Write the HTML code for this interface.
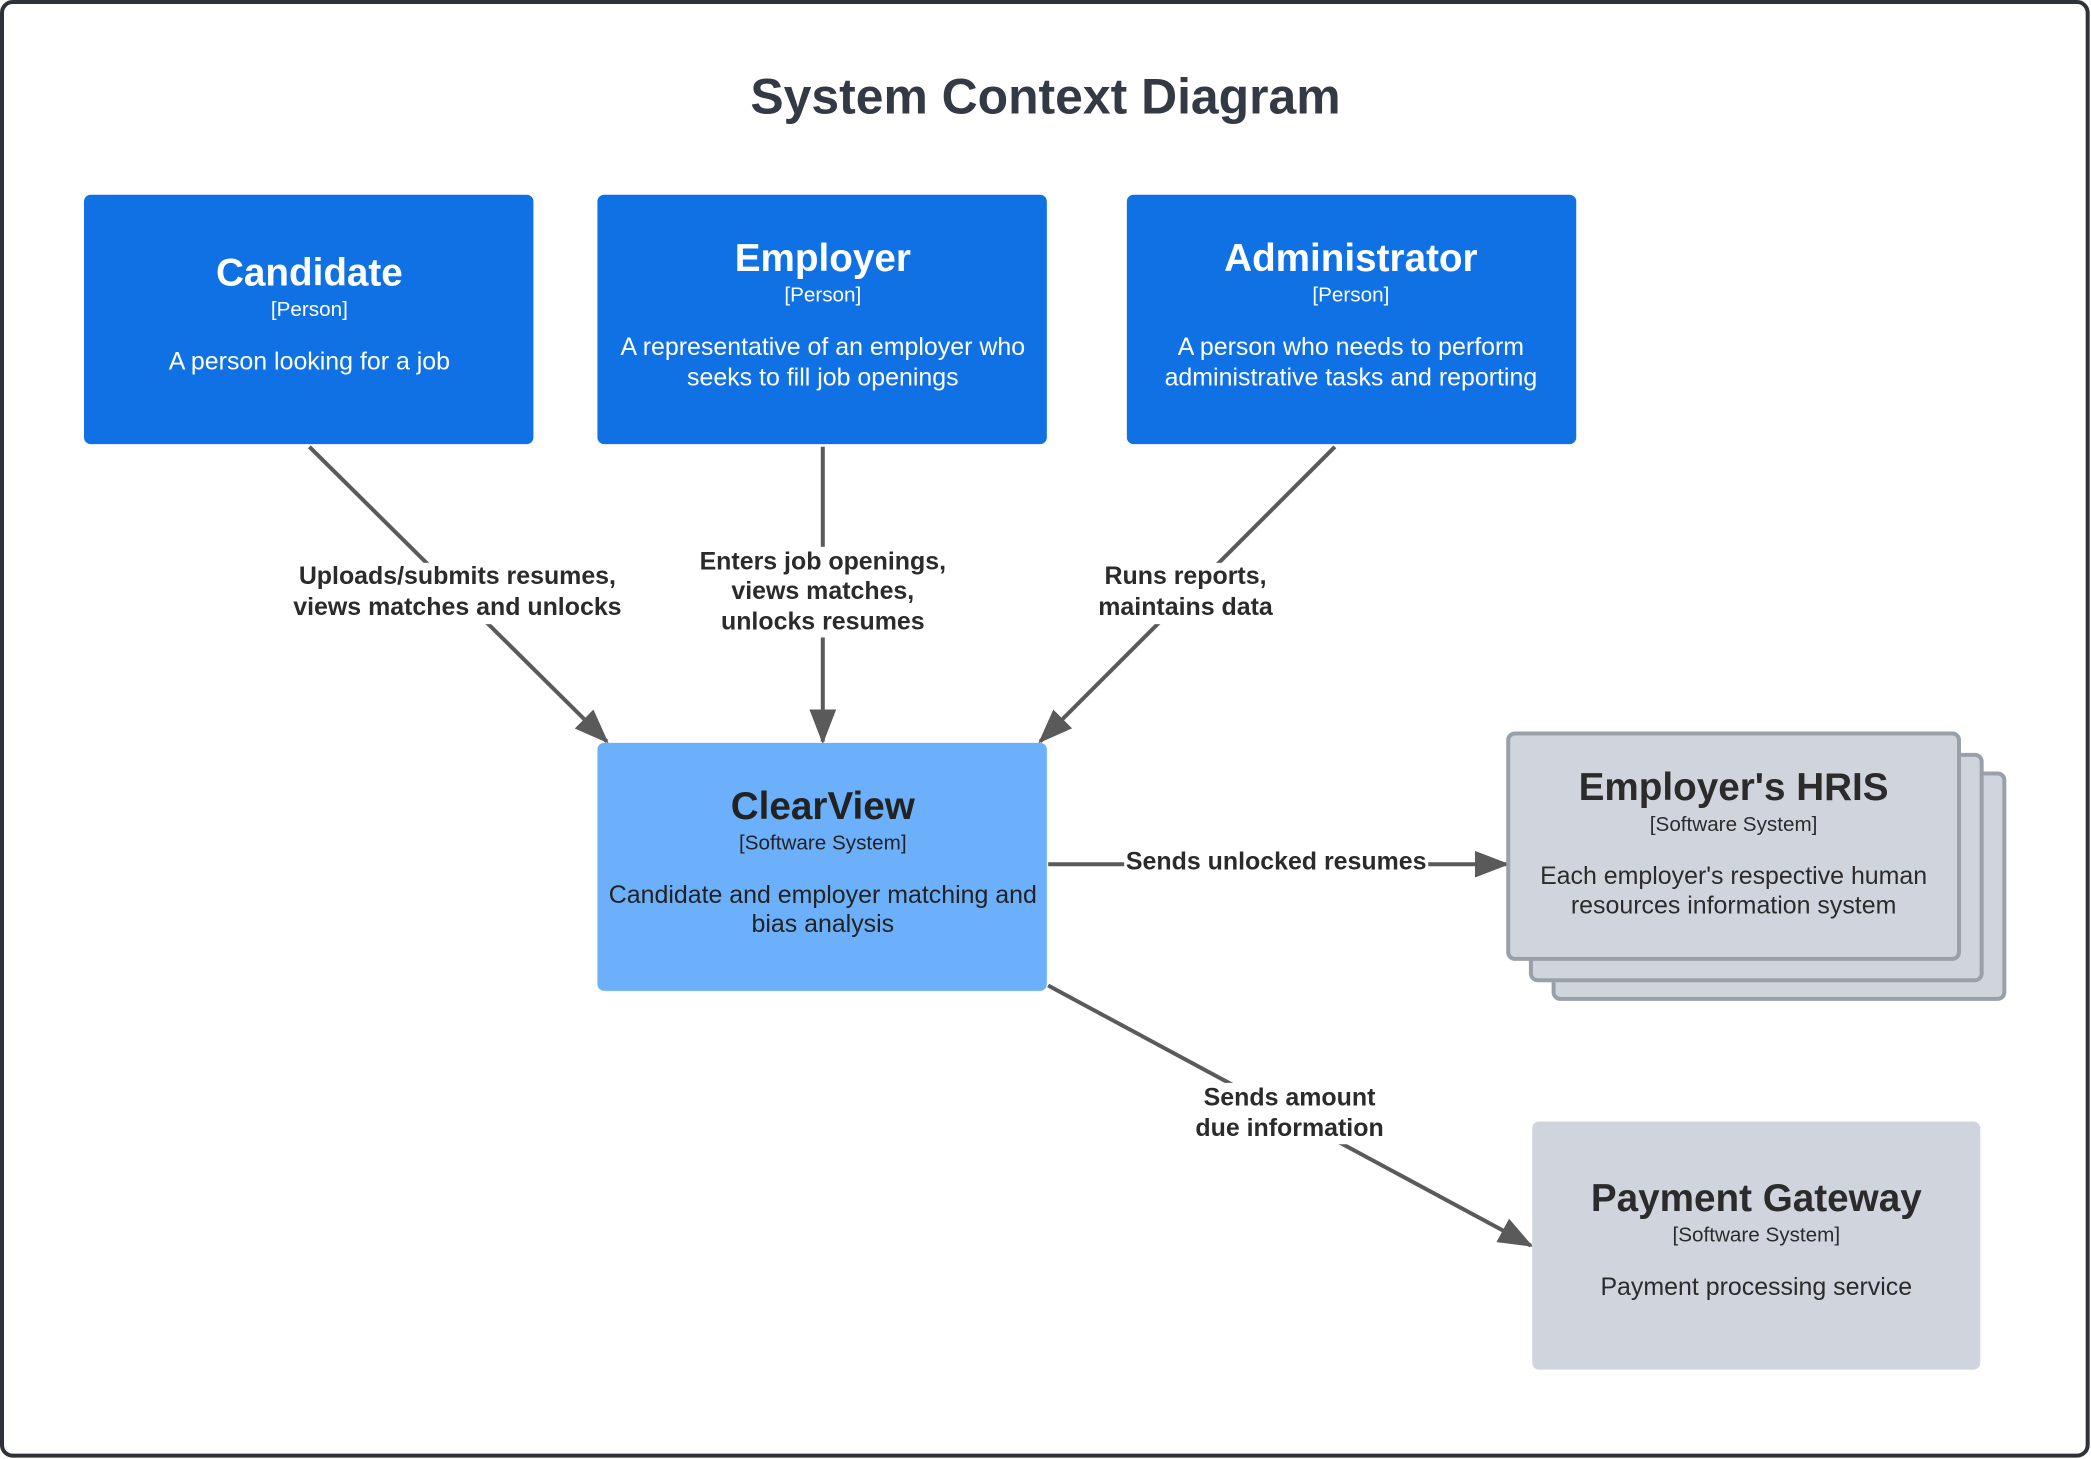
<!DOCTYPE html>
<html><head><meta charset="utf-8"><style>
html,body{margin:0;padding:0;background:#fff;}
svg{display:block;}
text{font-family:"Liberation Sans",Arial,sans-serif;}
</style></head><body>
<svg width="2091" height="1459" viewBox="0 0 1568 1094" xmlns="http://www.w3.org/2000/svg">
<defs>
<marker id="ah" markerWidth="26" markerHeight="20" refX="24" refY="10" orient="auto" markerUnits="userSpaceOnUse">
<path d="M0,0 L26,10 L0,20 Z" fill="#5a5a5a"/>
</marker>
</defs>
<rect x="1.5" y="1.5" width="1564" height="1090" rx="8" fill="#fff" stroke="#2e3238" stroke-width="3"/>
<text x="784" y="85" text-anchor="middle" font-size="37.4" font-weight="bold" fill="#333a45">System Context Diagram</text>

<g stroke="#5a5a5a" stroke-width="3" fill="none">
<line x1="232" y1="335" x2="455" y2="556" marker-end="url(#ah)"/>
<line x1="617" y1="335" x2="617" y2="556" marker-end="url(#ah)"/>
<line x1="1001" y1="335" x2="780" y2="556" marker-end="url(#ah)"/>
<line x1="786" y1="648" x2="1130" y2="648" marker-end="url(#ah)"/>
<line x1="786" y1="739" x2="1148" y2="934" marker-end="url(#ah)"/>
</g>
<g fill="#fff">
<rect x="214" y="422" width="260" height="46"/>
<rect x="516" y="410" width="202" height="68"/>
<rect x="816" y="422" width="146" height="46"/>
<rect x="843" y="636" width="228" height="20"/>
<rect x="889" y="812" width="156" height="46"/>
</g>
<g font-size="18.7" font-weight="bold" fill="#2b2b2b" text-anchor="middle">
<text x="343" y="438">Uploads/submits resumes,</text>
<text x="343" y="461">views matches and unlocks</text>
<text x="617" y="427">Enters job openings,</text>
<text x="617" y="449">views matches,</text>
<text x="617" y="472">unlocks resumes</text>
<text x="889" y="438">Runs reports,</text>
<text x="889" y="461">maintains data</text>
<text x="957" y="652">Sends unlocked resumes</text>
<text x="967" y="829">Sends amount</text>
<text x="967" y="852">due information</text>
</g>

<g fill="#1071e5">
<rect x="63" y="146" width="337" height="187" rx="5"/>
<rect x="448" y="146" width="337" height="187" rx="5"/>
<rect x="845" y="146" width="337" height="187" rx="5"/>
</g>
<g fill="#fff" text-anchor="middle">
<text x="232" y="214" font-size="29" font-weight="bold">Candidate</text>
<text x="232" y="237" font-size="15.5">[Person]</text>
<text x="232" y="277" font-size="18.7">A person looking for a job</text>
<text x="617" y="203" font-size="29" font-weight="bold">Employer</text>
<text x="617" y="226" font-size="15.5">[Person]</text>
<text x="617" y="266" font-size="18.7">A representative of an employer who</text>
<text x="617" y="289" font-size="18.7">seeks to fill job openings</text>
<text x="1013" y="203" font-size="29" font-weight="bold">Administrator</text>
<text x="1013" y="226" font-size="15.5">[Person]</text>
<text x="1013" y="266" font-size="18.7">A person who needs to perform</text>
<text x="1013" y="289" font-size="18.7">administrative tasks and reporting</text>
</g>

<rect x="448" y="557" width="337" height="186" rx="5" fill="#6cb0fc"/>
<g fill="#222" text-anchor="middle">
<text x="617" y="614" font-size="29" font-weight="bold">ClearView</text>
<text x="617" y="637" font-size="15.5">[Software System]</text>
<text x="617" y="677" font-size="18.7">Candidate and employer matching and</text>
<text x="617" y="699" font-size="18.7">bias analysis</text>
</g>

<g fill="#d0d5dd" stroke="#9aa0aa" stroke-width="3">
<rect x="1165" y="580" width="338" height="169" rx="5"/>
<rect x="1148" y="566" width="338" height="169" rx="5"/>
<rect x="1131" y="550" width="338" height="169" rx="5"/>
</g>
<g fill="#2b2b2b" text-anchor="middle">
<text x="1300" y="600" font-size="29" font-weight="bold">Employer's HRIS</text>
<text x="1300" y="623" font-size="15.5">[Software System]</text>
<text x="1300" y="663" font-size="18.7">Each employer's respective human</text>
<text x="1300" y="685" font-size="18.7">resources information system</text>
</g>

<rect x="1149" y="841" width="336" height="186" rx="5" fill="#d0d5dd"/>
<g fill="#2b2b2b" text-anchor="middle">
<text x="1317" y="908" font-size="29" font-weight="bold">Payment Gateway</text>
<text x="1317" y="931" font-size="15.5">[Software System]</text>
<text x="1317" y="971" font-size="18.7">Payment processing service</text>
</g>
</svg>
</body></html>
